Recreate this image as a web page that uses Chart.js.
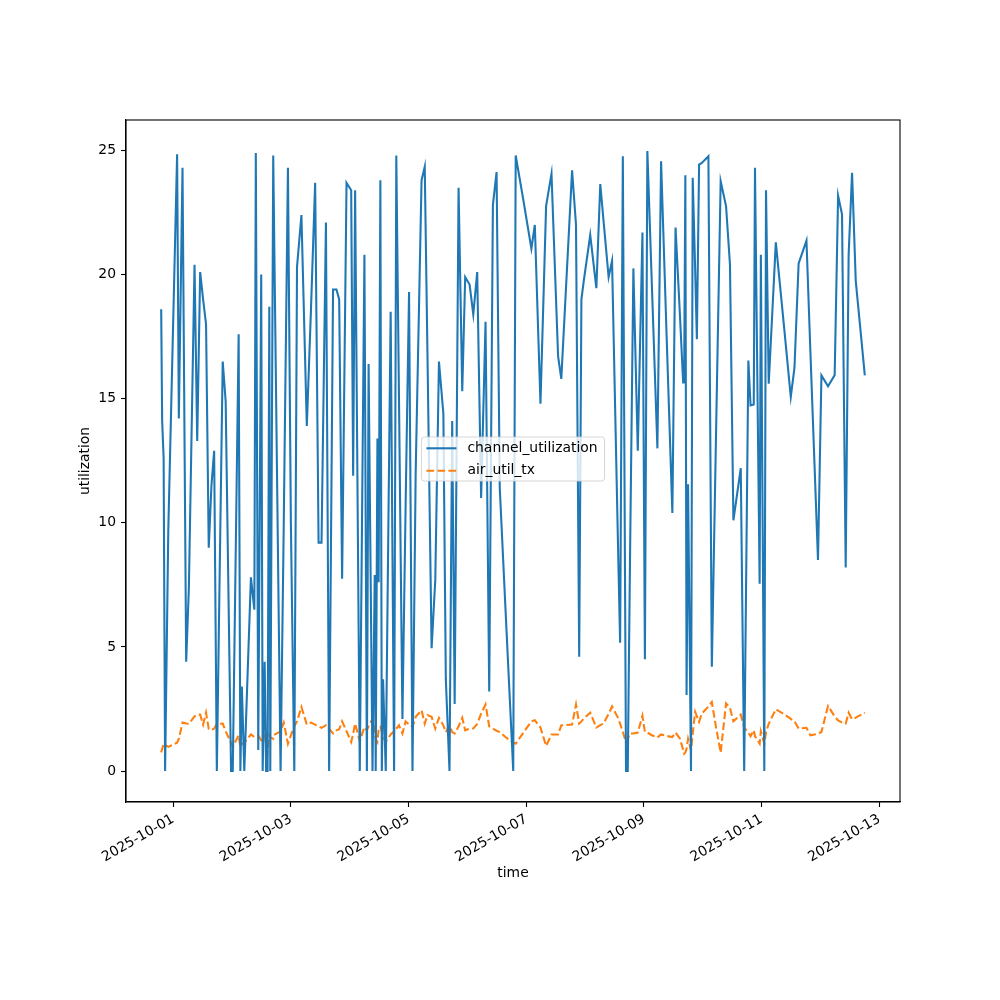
<!DOCTYPE html>
<html>
<head>
<meta charset="utf-8">
<script src="https://cdn.jsdelivr.net/npm/chart.js@4.4.1/dist/chart.umd.min.js"></script>
<style>
  html, body { margin: 0; padding: 0; background: #fff; }
  #wrap { width: 1000px; height: 1000px; }
</style>
</head>
<body>
<div id="wrap"><canvas id="chart" width="1000" height="1000"></canvas></div>
<script>
// hours since 2025-10-01 00:00 UTC
const timeOrigin = '2025-10-01T00:00:00Z';
const hoursSinceOrigin = [
  -4.9, -4.5, -3.9, -3.3, -2.0, 1.6, 2.3, 3.8, 5.3, 6.4,
  8.7, 9.8, 11.0, 12.2, 13.4, 14.5, 15.6, 16.7, 17.8, 20.2,
  21.4, 23.6, 24.3, 26.7, 27.4, 28.0, 29.0, 31.7, 33.1, 33.7,
  34.7, 35.9, 36.5, 37.3, 37.9, 38.5, 39.2, 39.6, 40.8, 41.1,
  43.8, 45.1, 46.8, 48.0, 49.4, 50.5, 52.3, 54.5, 56.2, 57.9,
  59.3, 60.5, 62.3, 63.6, 65.2, 66.6, 67.7, 68.9, 70.7, 72.6,
  73.4, 74.2, 76.1, 78.0, 79.0, 79.7, 81.3, 82.2, 82.6, 83.3,
  83.8, 84.5, 85.1, 85.6, 86.7, 88.7, 90.1, 91.0, 92.1, 93.5,
  94.8, 96.2, 97.6, 98.9, 101.3, 102.6, 103.7, 105.4, 106.9, 108.4,
  110.2, 111.2, 112.7, 113.8, 114.8, 116.4, 117.9, 119.1, 120.9, 122.4,
  124.0, 125.6, 127.4, 128.9, 130.4, 131.9, 133.2, 135.5, 138.7, 139.7,
  143.0, 146.1, 147.5, 149.8, 152.1, 154.3, 157.0, 158.3, 162.7, 164.3,
  165.6, 166.5, 167.4, 170.1, 172.6, 174.2, 175.5, 177.6, 179.0, 181.6,
  182.3, 183.4, 184.7, 185.4, 186.3, 187.7, 189.5, 191.4, 192.4, 193.4,
  195.2, 197.5, 199.0, 201.3, 203.6, 204.9, 206.7, 208.0, 208.4, 208.9,
  209.4, 210.0, 211.2, 211.9, 212.9, 213.6, 214.5, 215.6, 218.3, 219.7,
  221.4, 223.3, 225.5, 227.1, 228.5, 231.5, 232.9, 234.6, 235.5, 236.8,
  237.3, 239.2, 239.7, 241.1, 241.8, 242.9, 245.8, 249.2, 251.9, 253.4,
  255.1, 258.3, 259.9, 263.0, 264.4, 267.1, 269.8, 271.2, 272.8, 274.3,
  275.5, 276.9, 278.4, 282.1
];

const channelUtilization = [
  18.6, 14.1, 12.6, 0, 9.7, 24.85, 14.2, 24.3, 4.4, 7.4,
  20.4, 13.3, 20.1, 19.0, 18.0, 9.0, 11.5, 12.9, 0, 16.5,
  14.9, 0, 0, 17.6, 0, 3.4, 0, 7.8, 6.5, 24.9,
  0.85, 20.0, 0, 4.4, 0, 0, 18.7, 0, 24.8, 24.8,
  0, 10.0, 24.3, 10.0, 0, 20.3, 22.4, 13.9, 18.6, 23.7,
  9.2, 9.2, 22.1, 0, 19.4, 19.4, 19.0, 7.75, 23.7, 23.4,
  11.9, 23.4, 0, 20.8, 0, 16.4, 0, 7.9, 0, 13.4,
  7.6, 23.8, 0, 3.7, 0, 18.5, 0, 24.8, 15.0, 2.1,
  10.7, 19.3, 0, 12.0, 23.8, 24.35, 16.9, 4.95, 7.7, 16.5,
  14.4, 3.7, 0, 14.1, 2.7, 23.5, 15.3, 19.9, 19.6, 18.4,
  20.1, 11.0, 18.1, 3.2, 22.8, 24.13, 11.4, 6.6, 0, 24.8,
  22.9, 21.04, 22.0, 14.8, 22.76, 24.06, 16.7, 15.8, 24.2, 22.0,
  4.6, 19.0, 19.7, 21.6, 19.45, 23.65, 22.2, 19.9, 20.55, 8.3,
  5.17, 24.77, 0, 0, 8.3, 20.25, 12.9, 21.7, 4.5, 24.98,
  19.7, 13.0, 24.57, 17.4, 10.4, 21.9, 18.35, 15.65, 15.65, 24.0,
  3.06, 11.55, 0, 23.9, 20.2, 17.4, 24.43, 24.5, 24.77, 4.2,
  13.5, 23.76, 22.76, 20.4, 10.1, 12.2, 0, 16.54, 14.73, 14.77,
  24.3, 7.54, 20.8, 0, 23.4, 15.6, 21.3, 17.85, 15.07, 16.24,
  20.45, 21.37, 16.9, 8.5, 15.94, 15.5, 15.95, 23.18, 22.43, 8.2,
  20.8, 24.1, 19.75, 15.94
];

const airUtilTx = [
  0.75, 0.9, 1.1, 1.05, 0.97, 1.14, 1.3, 1.95, 1.91, 1.9,
  2.2, 2.27, 2.27, 1.87, 2.35, 1.7, 1.65, 1.71, 1.9, 1.91,
  1.6, 1.14, 0.97, 1.44, 0.97, 1.1, 1.14, 1.47, 1.37, 1.4,
  1.44, 1.24, 1.3, 1.41, 1.1, 0.77, 1.44, 1.35, 1.3, 1.45,
  1.6, 1.95, 1.1, 1.44, 1.8, 2.0, 2.58, 1.87, 1.95, 1.87,
  1.8, 1.74, 1.84, 1.7, 1.51, 1.64, 1.68, 2.0, 1.6, 1.17,
  1.5, 1.91, 1.2, 1.77, 1.64, 1.8, 2.11, 1.6, 1.3, 1.17,
  1.7, 1.77, 1.57, 1.4, 1.17, 1.47, 1.6, 1.71, 1.84, 1.51,
  2.0, 1.87, 1.77, 2.18, 2.45, 1.91, 2.25, 2.18, 1.71, 2.14,
  1.84, 1.57, 1.84, 1.57, 1.51, 1.8, 2.14, 1.64, 1.71, 1.71,
  1.9, 2.31, 2.68, 1.8, 1.71, 1.62, 1.57, 1.37, 1.15, 1.1,
  1.57, 2.0, 2.05, 1.75, 1.01, 1.47, 1.47, 1.84, 1.87, 2.68,
  1.91, 2.0, 2.11, 2.35, 1.75, 1.85, 1.91, 2.3, 2.6, 2.11,
  1.9, 1.57, 1.15, 1.3, 1.51, 1.51, 1.55, 2.23, 1.57, 1.55,
  1.44, 1.35, 1.47, 1.41, 1.37, 1.55, 1.3, 0.85, 0.7, 0.75,
  0.9, 1.3, 0.83, 1.5, 2.38, 2.2, 1.98, 2.31, 2.6, 2.78,
  1.77, 0.74, 2.72, 2.54, 2.0, 2.27, 1.75, 1.55, 1.4, 1.64,
  1.4, 1.1, 1.6, 1.1, 1.57, 1.9, 2.49, 2.29, 2.1, 2.0,
  1.71, 1.74, 1.44, 1.5, 1.57, 2.62, 2.2, 2.04, 1.95, 1.91,
  2.35, 2.08, 2.15, 2.35
];

const xTickLabels = ['2025-10-01', '2025-10-03', '2025-10-05', '2025-10-07', '2025-10-09', '2025-10-11', '2025-10-13'];
const yTickValues = [0, 5, 10, 15, 20, 25];

const originMs = Date.parse(timeOrigin);
const xTickHours = xTickLabels.map(d => (Date.parse(d + 'T00:00:00Z') - originMs) / 3600000);

function hourToDate(h) {
  return new Date(originMs + h * 3600000).toISOString().slice(0, 10);
}

// matplotlib style 5% margins
function paddedRange(values) {
  const lo = Math.min(...values);
  const hi = Math.max(...values);
  const m = (hi - lo) * 0.05;
  return [lo - m, hi + m];
}

const [xMin, xMax] = paddedRange(hoursSinceOrigin);
const [yMin, yMax] = paddedRange(channelUtilization.concat(airUtilTx));

const FONT = 'DejaVu Sans';
const FONT_SIZE = 13.9;
Chart.defaults.font.family = FONT;
Chart.defaults.font.size = FONT_SIZE;
Chart.defaults.color = '#000';

const frameAndLegend = {
  id: 'frameAndLegend',
  afterDatasetsDraw(chart) {
    const { ctx, chartArea: a } = chart;
    ctx.save();
    ctx.strokeStyle = '#000';
    ctx.lineWidth = 1.1;
    ctx.strokeRect(a.left, a.top, a.right - a.left, a.bottom - a.top);

    // legend in the middle of the axes
    ctx.font = FONT_SIZE + 'px "' + FONT + '"';
    const sets = chart.data.datasets;
    const textW = Math.max(...sets.map(s => ctx.measureText(s.label).width));
    const w = 46 + textW + 7;
    const h = 44;
    const x = (a.left + a.right) / 2 - w / 2;
    const y = (a.top + a.bottom) / 2 - h / 2 - 2;
    ctx.beginPath();
    ctx.roundRect(x, y, w, h, 3);
    ctx.fillStyle = 'rgba(255,255,255,0.8)';
    ctx.fill();
    ctx.strokeStyle = 'rgba(204,204,204,0.8)';
    ctx.lineWidth = 1;
    ctx.stroke();

    sets.forEach((s, i) => {
      const ry = y + 11.3 + i * 22.4;
      ctx.beginPath();
      ctx.setLineDash(s.borderDash || []);
      ctx.strokeStyle = s.borderColor;
      ctx.lineWidth = s.borderWidth;
      ctx.moveTo(x + 5, ry);
      ctx.lineTo(x + 35, ry);
      ctx.stroke();
      ctx.setLineDash([]);
      ctx.fillStyle = '#000';
      ctx.textBaseline = 'middle';
      ctx.textAlign = 'left';
      ctx.fillText(s.label, x + 46, ry);
    });
    ctx.restore();
  }
};

new Chart(document.getElementById('chart'), {
  type: 'line',
  data: {
    datasets: [{
      label: 'channel_utilization',
      data: hoursSinceOrigin.map((h, i) => ({ x: h, y: channelUtilization[i] })),
      borderColor: '#1f77b4',
      borderWidth: 2.08,
      pointRadius: 0,
      tension: 0,
      fill: false
    }, {
      label: 'air_util_tx',
      data: hoursSinceOrigin.map((h, i) => ({ x: h, y: airUtilTx[i] })),
      borderColor: '#ff7f0e',
      borderWidth: 2.08,
      borderDash: [7.7, 3.3],
      pointRadius: 0,
      tension: 0,
      fill: false
    }]
  },
  options: {
    responsive: false,
    animation: false,
    layout: { padding: { top: 120, right: 100, left: 73, bottom: 114.7 } },
    plugins: {
      legend: { display: false },
      tooltip: { enabled: false }
    },
    scales: {
      x: {
        type: 'linear',
        min: xMin,
        max: xMax,
        afterBuildTicks: axis => { axis.ticks = xTickHours.map(v => ({ value: v })); },
        afterFit: axis => { axis.height = 83.3; },
        ticks: {
          autoSkip: false,
          minRotation: 30,
          maxRotation: 30,
          padding: 4,
          callback: v => hourToDate(v)
        },
        grid: { drawOnChartArea: false, drawTicks: true, tickLength: 5, tickColor: '#000', tickWidth: 1.1 },
        border: { display: true, color: '#000', width: 1.1 },
        title: { display: true, text: 'time', color: '#000', padding: { top: 4, bottom: 4 } }
      },
      y: {
        type: 'linear',
        min: yMin,
        max: yMax,
        afterBuildTicks: axis => { axis.ticks = yTickValues.map(v => ({ value: v })); },
        afterFit: axis => { axis.width = 53; },
        ticks: { padding: 5 },
        grid: { drawOnChartArea: false, drawTicks: true, tickLength: 5, tickColor: '#000', tickWidth: 1.1 },
        border: { display: true, color: '#000', width: 1.1 },
        title: { display: true, text: 'utilization', color: '#000', padding: { top: 4, bottom: 4 } }
      }
    }
  },
  plugins: [frameAndLegend]
});
</script>
</body>
</html>
